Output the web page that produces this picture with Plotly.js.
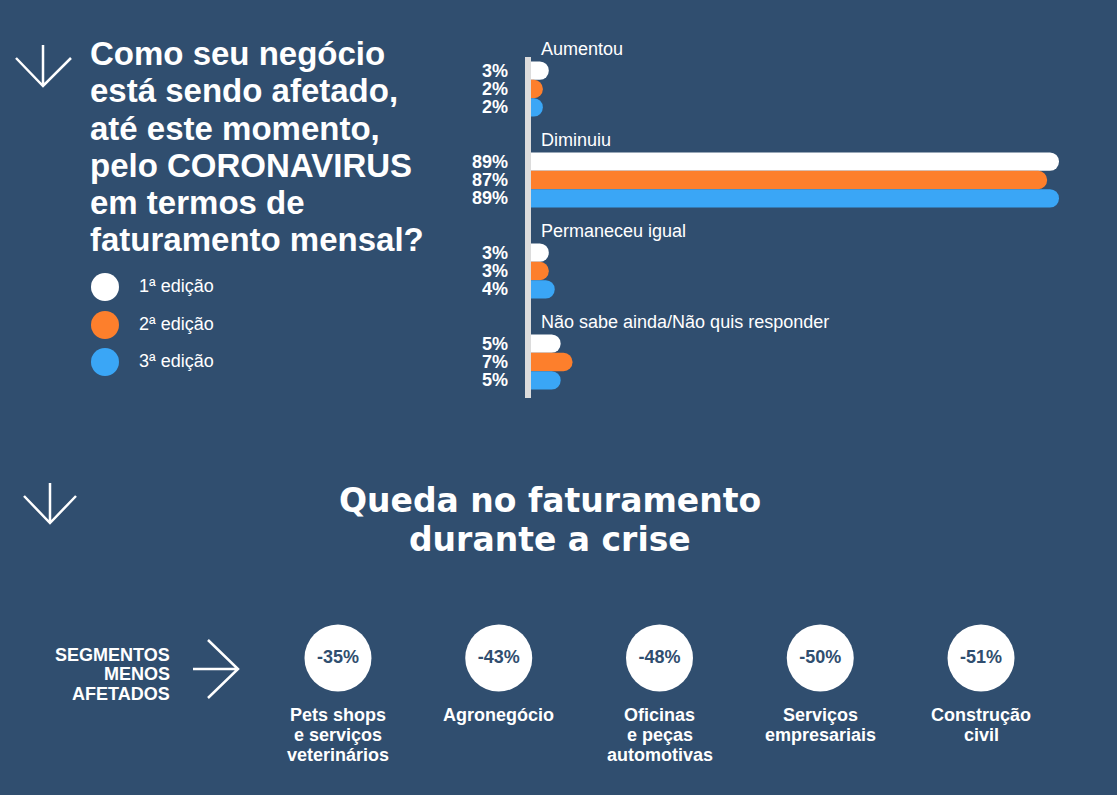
<!DOCTYPE html>
<html>
<head>
<meta charset="utf-8">
<script src="https://cdn.plot.ly/plotly-3.0.1.min.js"></script>
<style>
  html, body { margin: 0; padding: 0; background: #304e6f; }
  #chart { width: 1117px; height: 795px; }
</style>
</head>
<body>
<div id="chart"></div>
<script>
// ---------------- DATA ----------------
const categories = ['Aumentou', 'Diminuiu', 'Permaneceu igual', 'Não sabe ainda/Não quis responder'];
const edition1 = [3, 89, 3, 5];
const edition2 = [2, 87, 3, 7];
const edition3 = [2, 89, 4, 5];
const seriesNames = ['1ª edição', '2ª edição', '3ª edição'];
const seriesColors = ['#ffffff', '#fd7f2c', '#3aa6f6'];

const questionLines = ['Como seu negócio', 'está sendo afetado,', 'até este momento,', 'pelo CORONAVIRUS', 'em termos de', 'faturamento mensal?'];
const sectionTitleLines = ['Queda no faturamento', 'durante a crise'];
const sideLabelLines = ['SEGMENTOS', 'MENOS', 'AFETADOS'];
const segmentLabels = [
  ['Pets shops', 'e serviços', 'veterinários'],
  ['Agronegócio'],
  ['Oficinas', 'e peças', 'automotivas'],
  ['Serviços', 'empresariais'],
  ['Construção', 'civil']
];
const revenueDrop = [-35, -43, -48, -50, -51];

// ---------------- STYLE / LAYOUT HELPERS ----------------
const W = 1117, H = 795;
const BG = '#304e6f';
const FONT = 'Liberation Sans, Arial, Helvetica, sans-serif';
const px = x => x / W;
const py = y => 1 - y / H;
const P = (x, y) => px(x).toFixed(5) + ',' + py(y).toFixed(5);

const seriesValues = [edition1, edition2, edition3];
const maxVal = Math.max(...edition1, ...edition2, ...edition3);

const traces = seriesValues.map((vals, s) => ({
  type: 'bar',
  orientation: 'h',
  name: seriesNames[s],
  x: vals,
  y: categories,
  marker: { color: seriesColors[s], cornerradius: 9, line: { width: 0 } },
  xaxis: 'x', yaxis: 'y',
  hoverinfo: 'skip',
  showlegend: false
}));

// Segments (circles with values) via scatter on second axis pair
traces.push({
  type: 'scatter',
  mode: 'markers+text',
  x: revenueDrop.map((_, i) => i),
  y: revenueDrop.map(() => 0),
  text: revenueDrop.map(v => v + '%'),
  textposition: 'middle center',
  textfont: { family: FONT, size: 18, color: BG, weight: 'bold' },
  marker: { size: 67, color: '#ffffff', line: { width: 0 } },
  xaxis: 'x2', yaxis: 'y2',
  cliponaxis: false,
  hoverinfo: 'skip',
  showlegend: false
});

const annotations = [];
const shapes = [];

// Question title lines
questionLines.forEach((t, i) => {
  annotations.push({
    xref: 'paper', yref: 'paper', x: px(88), y: py(53.5 + 37.3 * i),
    xanchor: 'left', yanchor: 'middle', showarrow: false, text: t,
    font: { family: FONT, size: 33, color: '#ffffff', weight: 'bold' }
  });
});

// Legend (circles + names)
const legendY = [287, 325, 362];
seriesNames.forEach((n, s) => {
  shapes.push({
    type: 'circle', xref: 'paper', yref: 'paper',
    xsizemode: 'pixel', ysizemode: 'pixel',
    xanchor: px(105), yanchor: py(legendY[s]),
    x0: -14, x1: 14, y0: -14, y1: 14,
    fillcolor: seriesColors[s], line: { width: 0 }
  });
  annotations.push({
    xref: 'paper', yref: 'paper', x: px(137), y: py(legendY[s] - 1),
    xanchor: 'left', yanchor: 'middle', showarrow: false, text: n,
    font: { family: FONT, size: 18, color: '#ffffff' }
  });
});

// Category labels and value labels for bars
const barH = 18.4;
categories.forEach((c, i) => {
  annotations.push({
    xref: 'x', yref: 'y', x: 0, y: c, xanchor: 'left', yanchor: 'middle',
    xshift: 8, yshift: 40, showarrow: false, text: c,
    font: { family: FONT, size: 18, color: '#ffffff' }
  });
  seriesValues.forEach((vals, s) => {
    annotations.push({
      xref: 'x', yref: 'y', x: 0, y: c, xanchor: 'right', yanchor: 'middle',
      xshift: -21, yshift: (1 - s) * barH, showarrow: false, text: vals[i] + '%',
      font: { family: FONT, size: 18, color: '#ffffff', weight: 'bold' }
    });
  });
});

// Gray axis line at bar base
shapes.push({
  type: 'rect', xref: 'paper', yref: 'paper',
  x0: px(525), x1: px(531), y0: py(398), y1: py(57),
  fillcolor: '#dcdcdc', line: { width: 0 }, layer: 'above'
});

// Arrows
const arrowLine = { color: '#ffffff', width: 2.5 };
shapes.push({ type: 'path', xref: 'paper', yref: 'paper', line: arrowLine,
  path: 'M' + P(43, 45) + ' L' + P(43, 86) + ' M' + P(16, 58) + ' L' + P(43, 86) + ' L' + P(71, 58) });
shapes.push({ type: 'path', xref: 'paper', yref: 'paper', line: arrowLine,
  path: 'M' + P(50, 483) + ' L' + P(50, 523) + ' M' + P(24, 496) + ' L' + P(50, 523) + ' L' + P(76, 496) });
shapes.push({ type: 'path', xref: 'paper', yref: 'paper', line: arrowLine,
  path: 'M' + P(193, 669) + ' L' + P(238, 669) + ' M' + P(208, 640) + ' L' + P(238, 669) + ' L' + P(208, 698) });

// Section title
sectionTitleLines.forEach((t, i) => {
  annotations.push({
    xref: 'paper', yref: 'paper', x: px(550), y: py(500.5 + 39 * i),
    xanchor: 'center', yanchor: 'middle', showarrow: false, text: t,
    font: { family: 'DejaVu Sans, sans-serif', size: 33, color: '#ffffff', weight: 'bold' }
  });
});

// Side label
sideLabelLines.forEach((t, i) => {
  annotations.push({
    xref: 'paper', yref: 'paper', x: px(172), y: py(654.7 + 19.5 * i),
    xanchor: 'right', yanchor: 'middle', showarrow: false, text: t,
    font: { family: FONT, size: 18, color: '#ffffff', weight: 'bold' }
  });
});

// Segment labels
segmentLabels.forEach((lines, i) => {
  lines.forEach((t, j) => {
    annotations.push({
      xref: 'x2', yref: 'paper', x: i, y: py(714.7 + 20 * j),
      xanchor: 'center', yanchor: 'middle', showarrow: false, text: t,
      font: { family: FONT, size: 18, color: '#ffffff', weight: 'bold' }
    });
  });
});

const layout = {
  width: W, height: H,
  margin: { l: 0, r: 0, t: 0, b: 0, pad: 0 },
  paper_bgcolor: BG, plot_bgcolor: BG,
  showlegend: false,
  hovermode: false,
  barmode: 'group', bargap: 0.395, bargroupgap: 0,
  xaxis: { domain: [px(531), px(1059)], range: [0, maxVal], visible: false, fixedrange: true },
  yaxis: { domain: [py(407.5), py(43.5)], type: 'category', range: [3.5, -0.5],
           showticklabels: false, showgrid: false, zeroline: false, showline: false, fixedrange: true },
  xaxis2: { domain: [px(257.6), px(1061.4)], range: [-0.5, 4.5], visible: false, anchor: 'y2', fixedrange: true },
  yaxis2: { domain: [py(696), py(620)], range: [-1, 1], visible: false, anchor: 'x2', fixedrange: true },
  annotations: annotations,
  shapes: shapes
};

Plotly.newPlot('chart', traces, layout, { displayModeBar: false, staticPlot: true });
</script>
</body>
</html>
